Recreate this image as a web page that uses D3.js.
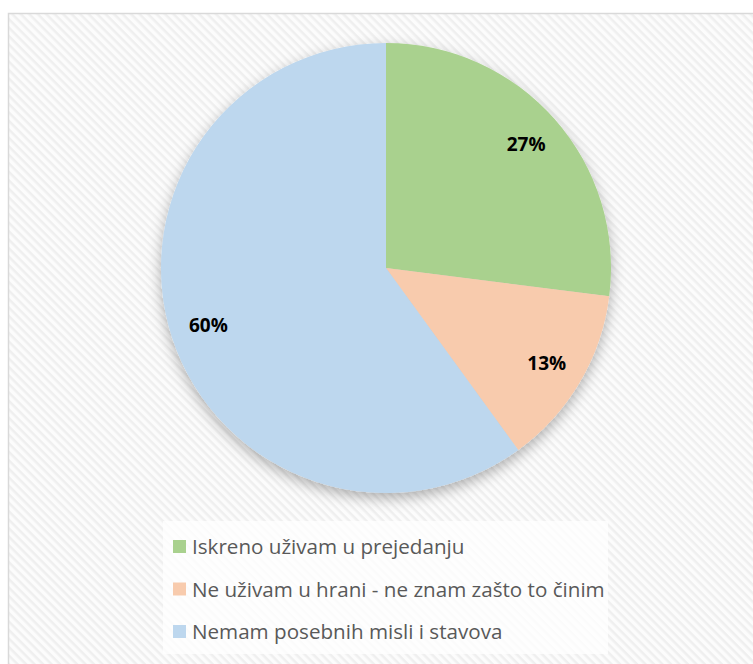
<!DOCTYPE html>
<html>
<head>
<meta charset="utf-8">
<script src="https://cdn.jsdelivr.net/npm/d3@7"></script>
<style>
	body { margin: 0; background: #fff; }
	svg { display: block; }
</style>
</head>
<body>
<div id="chart"></div>
<script>
// chart data
var categories = ['Iskreno uživam u prejedanju', 'Ne uživam u hrani - ne znam zašto to činim', 'Nemam posebnih misli i stavova'];
var values = [27, 13, 60];
var valueLabels = ['27%', '13%', '60%'];
var colors = ['#a9d18e', '#f8cbad', '#bdd7ee'];

var width = 753, height = 664;
var cx = 386, cy = 268, radius = 225;
var font = '"Open Sans", sans-serif';

var svg = d3.select('#chart').append('svg')
	.attr('width', width)
	.attr('height', height);

var defs = svg.append('defs');

// light diagonal hatch of the chart area
var pattern = defs.append('pattern')
	.attr('id', 'hatch')
	.attr('patternUnits', 'userSpaceOnUse')
	.attr('width', 6)
	.attr('height', 6)
	.attr('patternTransform', 'rotate(45)');
pattern.append('rect').attr('width', 6).attr('height', 6).attr('fill', '#fcfcfc');
pattern.append('rect').attr('width', 6).attr('height', 2.5).attr('fill', '#efefef');

var shadow = defs.append('filter')
	.attr('id', 'shadow')
	.attr('x', '-20%').attr('y', '-20%')
	.attr('width', '140%').attr('height', '140%');
shadow.append('feDropShadow')
	.attr('dx', 0)
	.attr('dy', 5)
	.attr('stdDeviation', 7)
	.attr('flood-color', '#000')
	.attr('flood-opacity', 0.3);

// chart area
svg.append('rect')
	.attr('x', 8.5)
	.attr('y', 13.5)
	.attr('width', width)
	.attr('height', height)
	.attr('fill', 'url(#hatch)')
	.attr('stroke', '#d9d9d9')
	.attr('stroke-width', 1.5);

var pie = d3.pie().sort(null).value(function(d) { return d; });
var arcs = pie(values);

var arc = d3.arc().innerRadius(0).outerRadius(radius);
var labelArc = d3.arc().innerRadius(radius * 0.83).outerRadius(radius * 0.83);

var g = svg.append('g')
	.attr('transform', 'translate(' + cx + ',' + cy + ')');

g.append('g')
	.attr('filter', 'url(#shadow)')
	.selectAll('path')
	.data(arcs)
	.enter().append('path')
	.attr('d', arc)
	.attr('fill', function(d, i) { return colors[i]; });

g.selectAll('text.lbl')
	.data(arcs)
	.enter().append('text')
	.attr('class', 'lbl')
	.attr('transform', function(d) { return 'translate(' + labelArc.centroid(d) + ')'; })
	.attr('text-anchor', 'middle')
	.attr('dy', '0.35em')
	.attr('font-family', font)
	.attr('font-weight', 'bold')
	.attr('font-size', 19)
	.attr('fill', '#000')
	.text(function(d, i) { return valueLabels[i]; });

// legend
var legend = svg.append('g');
legend.append('rect')
	.attr('x', 163)
	.attr('y', 521)
	.attr('width', 445)
	.attr('height', 133)
	.attr('fill', '#fff')
	.attr('fill-opacity', 0.75);

var rowY = d3.scalePoint().domain(categories).range([547, 632]);

var rows = legend.selectAll('g.row')
	.data(categories)
	.enter().append('g')
	.attr('class', 'row')
	.attr('transform', function(d) { return 'translate(173,' + rowY(d) + ')'; });

rows.append('rect')
	.attr('x', 0)
	.attr('y', -7)
	.attr('width', 13)
	.attr('height', 13)
	.attr('fill', function(d, i) { return colors[i]; });

var legendText = rows.append('text')
	.attr('x', 19)
	.attr('dy', '0.35em')
	.attr('font-family', font)
	.attr('font-size', 18)
	.attr('fill', '#595959')
	.text(function(d) { return d; });

// fit the longest label to the width it has in the reference
var longest = legendText.filter(function(d) { return d === categories[1]; }).node();
var fitSize = 18 * 413 / longest.getComputedTextLength();
legendText.attr('font-size', fitSize);
</script>
</body>
</html>
